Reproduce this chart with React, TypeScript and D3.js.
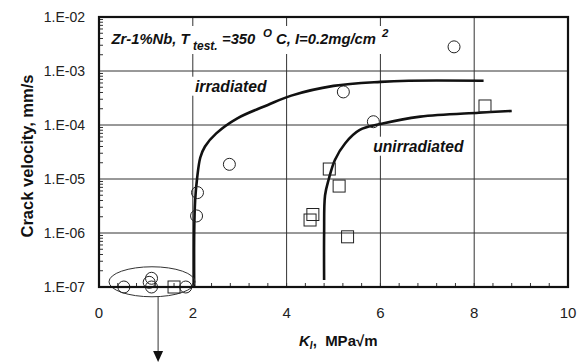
import { useEffect, useRef } from 'react';
import * as d3 from 'd3';

// irradiated points (circles) and unirradiated points (squares)
const irrK = [7.57, 5.21, 5.85, 2.78, 2.1, 2.08, 0.53, 1.07, 1.12, 1.12, 1.85];
const irrV = [2.8e-3, 4.1e-4, 1.15e-4, 1.87e-5, 5.6e-6, 2.07e-6, 1e-7, 1.22e-7, 1.45e-7, 1e-7, 1e-7];
const unirrK = [8.23, 4.91, 5.12, 4.56, 4.5, 5.3, 1.6];
const unirrV = [2.25e-4, 1.53e-5, 7.4e-6, 2.2e-6, 1.74e-6, 8.5e-7, 1e-7];

// fitted curves
const irrCurveK = [2.03, 2.03, 2.05, 2.09, 2.16, 2.26, 2.5, 2.95, 3.6, 4.1, 5.0, 6.0, 6.6, 8.2];
const irrCurveV = [1e-7, 1e-6, 4e-6, 1.0e-5, 2.5e-5, 4.0e-5, 7.0e-5, 1.33e-4, 2.35e-4, 3.5e-4, 5.3e-4, 6.3e-4, 6.6e-4, 6.6e-4];
const unirrCurveK = [4.8, 4.8, 4.82, 4.9, 5.03, 5.25, 5.56, 6.0, 6.85, 8.1, 8.8];
const unirrCurveV = [1.35e-7, 1e-6, 5e-6, 1.0e-5, 2.25e-5, 4.6e-5, 8.1e-5, 1.04e-4, 1.43e-4, 1.69e-4, 1.82e-4];

const xTicks = [0, 2, 4, 6, 8, 10];
const yTicks = [1e-7, 1e-6, 1e-5, 1e-4, 1e-3, 1e-2];
const yTickLabels = ['1.E-07', '1.E-06', '1.E-05', '1.E-04', '1.E-03', '1.E-02'];

function Chart() {
  const svgRef = useRef<SVGSVGElement | null>(null);

  useEffect(() => {
    if (!svgRef.current) return;
    const svg = d3.select(svgRef.current);
    svg.selectAll('*').remove();

    const width = 585;
    const height = 362;
    const margin = { top: 17, right: 17, bottom: 75, left: 99 };
    const font = 'Arial, "Liberation Sans", sans-serif';

    const x = d3.scaleLinear().domain([0, 10]).range([margin.left, width - margin.right]);
    const y = d3.scaleLog().domain([1e-7, 1e-2]).range([height - margin.bottom, margin.top]);
    const [x0, x1] = x.range();
    const [y0, y1] = y.range();

    svg.attr('viewBox', `0 0 ${width} ${height}`);
    svg.append('rect').attr('width', width).attr('height', height).attr('fill', '#fff');

    // grid
    const grid = svg.append('g').attr('stroke', '#333').attr('stroke-width', 1);
    grid
      .selectAll('line.v')
      .data(xTicks.slice(1, -1))
      .join('line')
      .attr('x1', (d) => x(d))
      .attr('x2', (d) => x(d))
      .attr('y1', y0)
      .attr('y2', y1);
    grid
      .selectAll('line.h')
      .data(yTicks.slice(1, -1))
      .join('line')
      .attr('x1', x0)
      .attr('x2', x1)
      .attr('y1', (d) => y(d))
      .attr('y2', (d) => y(d));

    // minor ticks
    const xMinor = d3.range(0.4, 10, 0.4);
    svg
      .append('g')
      .attr('stroke', '#333')
      .selectAll('line')
      .data(xMinor)
      .join('line')
      .attr('x1', (d) => x(d))
      .attr('x2', (d) => x(d))
      .attr('y1', y0)
      .attr('y2', y0 - 4);
    const yMinor: number[] = [];
    yTicks.slice(0, -1).forEach((t) => {
      for (let k = 2; k <= 9; k++) yMinor.push(t * k);
    });
    svg
      .append('g')
      .attr('stroke', '#333')
      .selectAll('line')
      .data(yMinor)
      .join('line')
      .attr('x1', x0)
      .attr('x2', x0 + 4)
      .attr('y1', (d) => y(d))
      .attr('y2', (d) => y(d));

    // annotation labels with white boxes behind them
    const addBoxed = (
      tx: number,
      ty: number,
      size: number,
      build: (t: d3.Selection<SVGTextElement, unknown, null, undefined>) => void
    ) => {
      const g = svg.append('g');
      const rect = g.append('rect').attr('fill', '#fff');
      const t = g
        .append('text')
        .attr('x', tx)
        .attr('y', ty)
        .attr('font-family', font)
        .attr('font-weight', 'bold')
        .attr('font-style', 'italic')
        .attr('font-size', size)
        .attr('fill', '#111');
      build(t);
      const bb = (t.node() as SVGTextElement).getBBox();
      rect
        .attr('x', bb.x - 3)
        .attr('y', bb.y - 1)
        .attr('width', bb.width + 6)
        .attr('height', bb.height + 2);
    };

    addBoxed(111.5, 43.5, 14.8, (t) => {
      t.append('tspan').text('Zr-1%Nb, T');
      t.append('tspan').attr('x', 193).attr('y', 50).attr('font-size', 12).text('test.');
      t.append('tspan').attr('x', 222).attr('y', 43.5).text('=350');
      t.append('tspan').attr('x', 263).attr('y', 37).attr('font-size', 11.5).text('O');
      t.append('tspan').attr('x', 276).attr('y', 43.5).text('C, I=0.2mg/cm');
      t.append('tspan').attr('x', 382).attr('y', 37).attr('font-size', 11.5).text('2');
    });
    addBoxed(195, 91.7, 15.7, (t) => t.text('irradiated'));
    addBoxed(373.3, 151.7, 15.6, (t) => t.text('unirradiated'));

    // curves
    const line = d3
      .line<[number, number]>()
      .x((d) => x(d[0]))
      .y((d) => y(d[1]))
      .curve(d3.curveCatmullRom.alpha(0.5));
    const curves = [
      irrCurveK.map((k, i) => [k, irrCurveV[i]] as [number, number]),
      unirrCurveK.map((k, i) => [k, unirrCurveV[i]] as [number, number]),
    ];
    svg
      .append('g')
      .selectAll('path')
      .data(curves)
      .join('path')
      .attr('d', (d) => line(d) ?? '')
      .attr('fill', 'none')
      .attr('stroke', '#111')
      .attr('stroke-width', 2.6);

    // ellipse + arrow annotation
    const ex = x(1.13);
    const ey = y(1.25e-7);
    svg
      .append('ellipse')
      .attr('cx', ex)
      .attr('cy', ey)
      .attr('rx', 43)
      .attr('ry', 15)
      .attr('fill', 'none')
      .attr('stroke', '#333')
      .attr('stroke-width', 1);
    const ax = x(1.26);
    svg
      .append('line')
      .attr('x1', ax)
      .attr('x2', ax)
      .attr('y1', ey + 15)
      .attr('y2', 352)
      .attr('stroke', '#333')
      .attr('stroke-width', 1);
    svg
      .append('path')
      .attr('d', `M${ax - 5},351 L${ax + 5},351 L${ax},362 Z`)
      .attr('fill', '#111');

    // markers
    const pts = svg.append('g').attr('stroke', '#222').attr('stroke-width', 1);
    pts
      .selectAll('circle')
      .data(irrK.map((k, i) => [k, irrV[i]]))
      .join('circle')
      .attr('cx', (d) => x(d[0]))
      .attr('cy', (d) => y(d[1]))
      .attr('r', 6)
      .attr('fill', 'none');
    pts
      .selectAll('rect')
      .data(unirrK.map((k, i) => [k, unirrV[i]]))
      .join('rect')
      .attr('x', (d) => x(d[0]) - 6)
      .attr('y', (d) => y(d[1]) - 6)
      .attr('width', 12)
      .attr('height', 12)
      .attr('fill', 'none');

    // frame
    svg
      .append('rect')
      .attr('x', x0)
      .attr('y', y1)
      .attr('width', x1 - x0)
      .attr('height', y0 - y1)
      .attr('fill', 'none')
      .attr('stroke', '#111')
      .attr('stroke-width', 2.2);

    // tick labels
    svg
      .append('g')
      .selectAll('text')
      .data(xTicks)
      .join('text')
      .attr('x', (d) => x(d))
      .attr('y', y0 + 31)
      .attr('text-anchor', 'middle')
      .attr('font-family', font)
      .attr('font-size', 15)
      .attr('fill', '#222')
      .text((d) => String(d));
    svg
      .append('g')
      .selectAll('text')
      .data(yTicks)
      .join('text')
      .attr('x', x0 - 14)
      .attr('y', (d) => y(d) + 5)
      .attr('text-anchor', 'end')
      .attr('font-family', font)
      .attr('font-size', 14)
      .attr('fill', '#222')
      .text((_, i) => yTickLabels[i]);

    // axis titles
    const xt = svg
      .append('text')
      .attr('x', 299)
      .attr('y', 346)
      .attr('font-family', font)
      .attr('font-weight', 'bold')
      .attr('font-size', 15)
      .attr('fill', '#111');
    xt.append('tspan').attr('font-style', 'italic').text('K');
    xt.append('tspan').attr('font-style', 'italic').attr('font-size', 10).attr('dy', 3).text('I');
    xt.append('tspan').attr('dy', -3).attr('xml:space', 'preserve').style('white-space', 'pre').text(',  MPa√m');

    svg
      .append('text')
      .attr('transform', `translate(33, ${(y0 + y1) / 2 + 4}) rotate(-90)`)
      .attr('text-anchor', 'middle')
      .attr('font-family', font)
      .attr('font-weight', 'bold')
      .attr('font-size', 16.5)
      .attr('fill', '#111')
      .text('Crack velocity, mm/s');
  }, []);

  return <svg ref={svgRef} width={585} height={362} style={{ display: 'block' }} />;
}

export default function App() {
  return (
    <div style={{ position: 'absolute', left: 0, top: 0 }}>
      <Chart />
    </div>
  );
}
